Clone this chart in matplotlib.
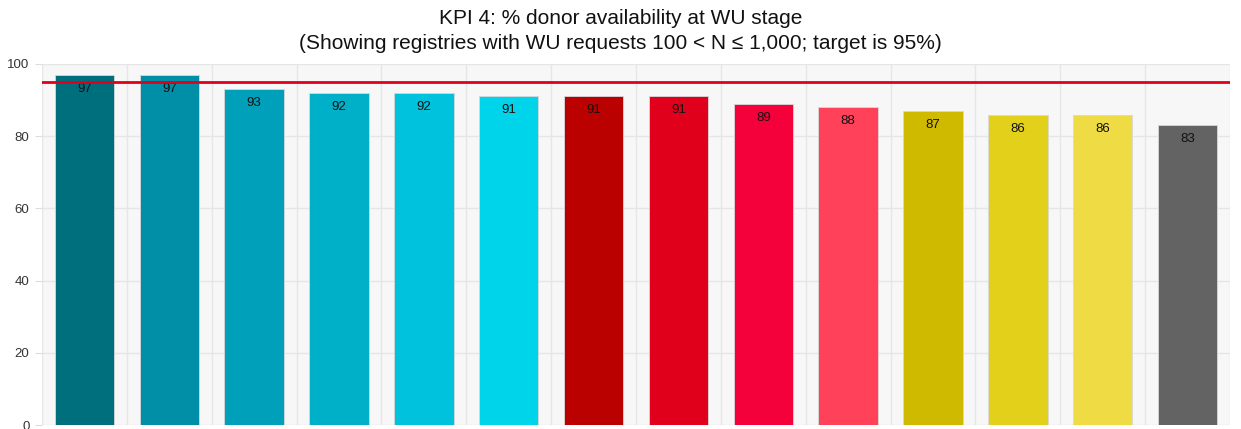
"""KPI 4 bar chart: % donor availability at WU stage."""

import matplotlib

matplotlib.use("Agg")

import matplotlib.pyplot as plt
import numpy as np

values = [97, 97, 93, 92, 92, 91, 91, 91, 89, 88, 87, 86, 86, 83]
bar_colors = [
    "#006f7d", "#008fa6", "#009fba", "#00b0c9", "#00c2dc", "#00d4ea",
    "#bb0000", "#e0001b", "#f4003a", "#ff4159",
    "#cfba00", "#e3d01b", "#efdc45", "#636363",
]
target = 95
y_ticks = [0, 20, 40, 60, 80, 100]

plt.rcParams["font.family"] = ["Liberation Sans", "DejaVu Sans"]

fig = plt.figure(figsize=(12.41, 4.29), dpi=100)
ax = fig.add_axes([42 / 1241, 4 / 429, 1188 / 1241, 361 / 429])
ax.set_facecolor("#f7f7f7")

x = np.arange(len(values))
ax.bar(x, values, width=0.7, color=bar_colors, edgecolor="#d8d8d8",
       linewidth=0.6, zorder=3)

for xi, v in zip(x, values):
    ax.annotate(str(v), (xi, v), xytext=(0, -14), textcoords="offset pixels",
                ha="center", va="center", fontsize=9.5, color="#111111",
                zorder=4)

ax.axhline(target, color="#e0001b", linewidth=2, zorder=5)

ax.set_xlim(-0.5, len(values) - 0.5)
ax.set_ylim(0, 100)
ax.set_yticks(y_ticks)
ax.set_xticks(np.arange(len(values) + 1) - 0.5)
ax.set_xticklabels([])
ax.tick_params(axis="x", length=0)
ax.tick_params(axis="y", length=5, color="#dddddd", labelsize=9.5,
               labelcolor="#333333", pad=4)
ax.grid(True, color="#e6e6e6", linewidth=1, zorder=0)
for side in ("top", "right", "bottom", "left"):
    ax.spines[side].set_visible(False)

fig.text(0.5, 0.957, "KPI 4: % donor availability at WU stage",
         ha="center", va="center", fontsize=15, color="#111111")
fig.text(0.5, 0.899,
         "(Showing registries with WU requests 100 < N \u2264 1,000; target is 95%)",
         ha="center", va="center", fontsize=15, color="#111111")

fig.savefig("out.png", dpi=100)
